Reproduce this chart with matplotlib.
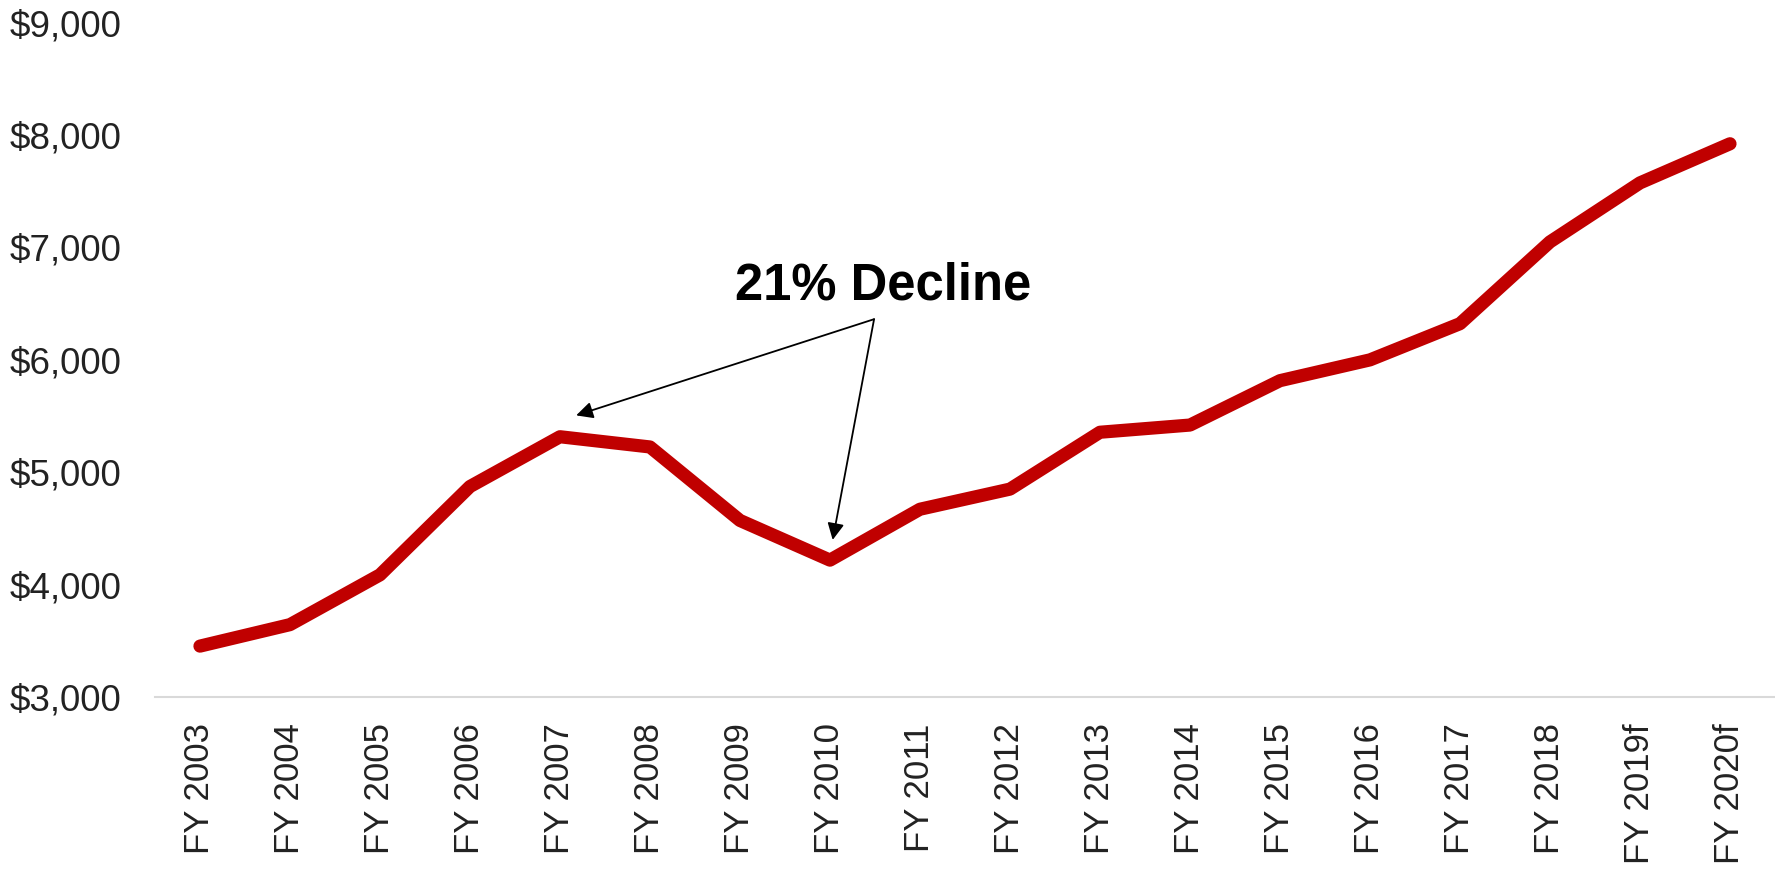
#!/usr/bin/env python3

import matplotlib
matplotlib.use("Agg")
import matplotlib.pyplot as plt
from matplotlib.ticker import FuncFormatter
import numpy as np

plt.rcParams['font.family'] = ['Liberation Sans', 'DejaVu Sans']

# Data
years = ["FY 2003", "FY 2004", "FY 2005", "FY 2006", "FY 2007", "FY 2008",
         "FY 2009", "FY 2010", "FY 2011", "FY 2012", "FY 2013", "FY 2014",
         "FY 2015", "FY 2016", "FY 2017", "FY 2018", "FY 2019f", "FY 2020f"]
values = [3453, 3644, 4087, 4873, 5316, 5225,
          4571, 4218, 4671, 4850, 5356, 5420,
          5815, 6000, 6322, 7050, 7575, 7923]
yticks = [3000, 4000, 5000, 6000, 7000, 8000, 9000]

note_text = "21% Decline"
peak_idx = 4
trough_idx = 7

fig = plt.figure(figsize=(17.75, 8.74), dpi=100)
ax = fig.add_axes([0.0873, 0.2025, 0.9127, 0.7715])

x = np.arange(len(years))
ax.plot(x, values, color='#C00000', lw=9.5, solid_capstyle='round',
        solid_joinstyle='round')

ax.set_xlim(-0.5, len(years) - 0.5)
ax.set_ylim(yticks[0], yticks[-1])
ax.set_yticks(yticks)
ax.yaxis.set_major_formatter(FuncFormatter(lambda v, p: "${:,.0f}".format(v)))
ax.set_xticks(x)
ax.set_xticklabels(years, rotation=90)

ax.tick_params(axis='y', length=0, pad=24, labelsize=26.5, labelcolor='#222222')
ax.tick_params(axis='x', length=0, pad=19, labelsize=25, labelcolor='#222222')

for s in ['left', 'right', 'top']:
    ax.spines[s].set_visible(False)
ax.spines['bottom'].set_color('#d9d9d9')
ax.spines['bottom'].set_linewidth(1.5)

# Annotation with two arrows from a common origin
origin = (7.49, 6362)
ax.text(7.59, 6660, note_text, ha='center', va='center',
        fontsize=36.5, fontweight='bold', color='black')
arrow = dict(arrowstyle='-|>', color='black', lw=1.3, mutation_scale=25,
             shrinkA=0, shrinkB=0)
ax.annotate("", xy=(peak_idx + 0.18, values[peak_idx] + 190), xytext=origin,
            arrowprops=arrow)
ax.annotate("", xy=(trough_idx + 0.03, values[trough_idx] + 180), xytext=origin,
            arrowprops=arrow)

fig.savefig("out.png", dpi=100)
